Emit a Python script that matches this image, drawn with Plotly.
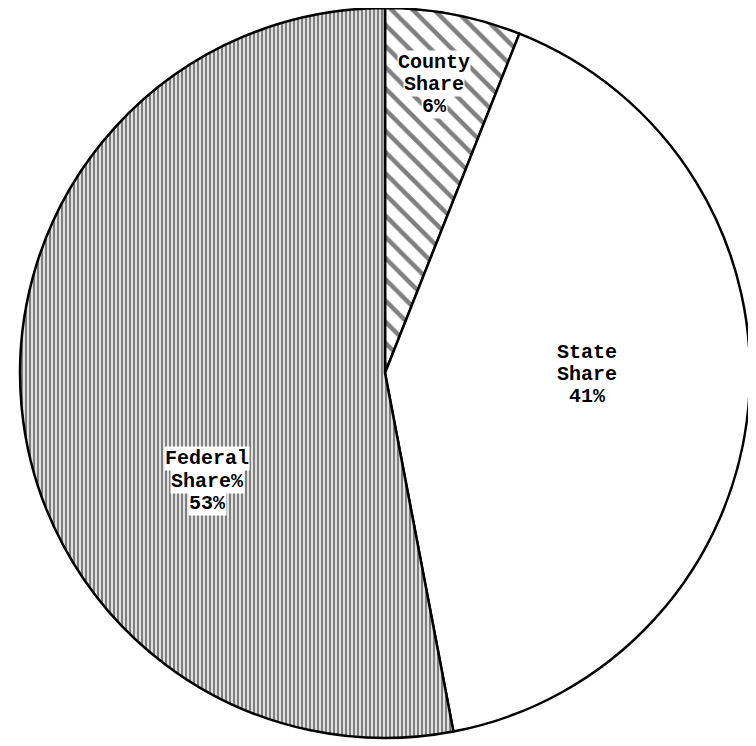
import plotly.graph_objects as go

# ---- data ----
categories = ["County", "State", "Federal"]
shares = [6, 41, 53]
label_line1 = ["County", "State", "Federal"]
label_line2 = ["Share", "Share", "Share%"]

# ---- styling ----
W, H = 756, 746
OFF = 8  # page body margin seen in the photograph
patterns = [
    dict(shape="\\", size=15, solidity=0.3, fgcolor="black", bgcolor="white"),
    dict(shape="", bgcolor="white"),
    dict(shape="|", size=4, solidity=0.62, fgcolor="black", bgcolor="white"),
]
# label block centres in screen pixels (x, y of middle line)
label_pos = [(434, 85), (587, 374), (207, 481)]
line_gap = 22
label_bg = ["white", "rgba(0,0,0,0)", "white"]

fig = go.Figure()
fig.add_trace(go.Pie(
    labels=categories,
    values=shares,
    sort=False,
    direction="clockwise",
    rotation=0,
    textinfo="none",
    hoverinfo="label+percent",
    showlegend=False,
    domain=dict(x=[0.0159, 0.9815], y=[0.0214, 1.0]),
    marker=dict(
        colors=["white", "white", "white"],
        line=dict(color="black", width=2.5),
        pattern=dict(
            shape=[p["shape"] for p in patterns],
            size=[p.get("size", 8) for p in patterns],
            solidity=[p.get("solidity", 0.3) for p in patterns],
            fgcolor=[p.get("fgcolor", "black") for p in patterns],
            bgcolor=[p["bgcolor"] for p in patterns],
            fillmode="overlay",
        ),
    ),
))

font = dict(family="Liberation Mono", size=20, color="black", weight="bold")
for i, cat in enumerate(categories):
    lines = [label_line1[i], label_line2[i], f"{shares[i]}%"]
    cx, cy = label_pos[i]
    for j, txt in enumerate(lines):
        ypx = cy + (j - 1) * line_gap - OFF
        fig.add_annotation(
            x=(cx - OFF) / W, y=1 - ypx / H, xref="paper", yref="paper",
            text=txt, showarrow=False, font=font,
            bgcolor=label_bg[i], borderpad=0,
            xanchor="center", yanchor="middle",
        )

fig.update_layout(
    width=W, height=H,
    margin=dict(l=0, r=0, t=0, b=0),
    paper_bgcolor="white",
    plot_bgcolor="white",
)

fig.write_html("out.html")
